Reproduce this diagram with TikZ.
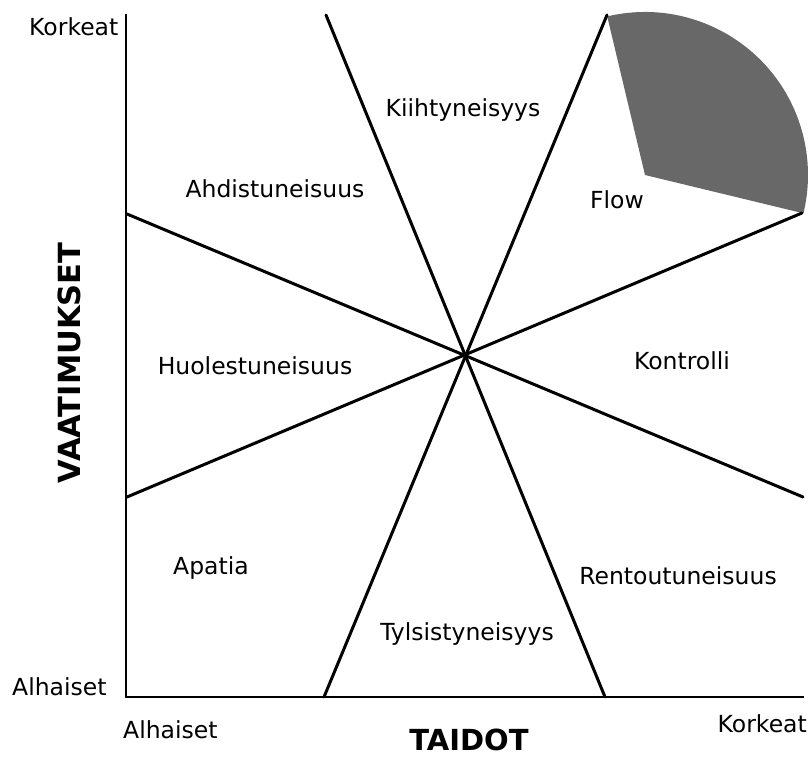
\documentclass[tikz,border=0pt]{standalone}
\usepackage{fontspec}
\setmainfont{DejaVu Sans}
\begin{document}
\begin{tikzpicture}[x=1pt,y=-1pt,
  lbl/.style={inner sep=0pt, font=\fontsize{23.5}{28}\selectfont},
  ttl/.style={inner sep=0pt, font=\fontsize{29}{34}\selectfont\bfseries},
  axis/.style={line width=2.6pt, line cap=rect},
  ray/.style={line width=3pt, line cap=round},
  flowfill/.style={fill={rgb,255:red,104;green,104;blue,104}}]
\useasboundingbox[fill=white] (0,0) rectangle (811,778);
% gray flow sector
\coordinate (fc) at (645,175);
\fill[flowfill] (fc) -- ++(-103.4:163) arc[start angle=-103.4, end angle=13.6, radius=163] -- cycle;
% axes
\coordinate (ytop) at (126,15);
\coordinate (orig) at (126,697);
\coordinate (xend) at (803,697);
\draw[axis] (ytop) -- (orig) -- (xend);
% rays through the centre
\coordinate (O) at (465.5,356);
\coordinate (t1) at (326,15);
\coordinate (b1) at (605,697);
\coordinate (t2) at (607,15);
\coordinate (b2) at (324,697);
\coordinate (l1) at (127,214);
\coordinate (r1) at (803,497);
\coordinate (l2) at (127,497);
\coordinate (r2) at (802,213);
\draw[ray] (t1) -- (b1);
\draw[ray] (t2) -- (b2);
\draw[ray] (l1) -- (r1);
\draw[ray] (l2) -- (r2);
% axis labels
\node[lbl, anchor=base west] (ky) at (29,36) {Korkeat};
\node[lbl, anchor=base west] (ay) at (12,695) {Alhaiset};
\node[lbl, anchor=base west] (ax) at (123,738) {Alhaiset};
\node[lbl, anchor=base east] (kx) at (807,732) {Korkeat};
\node[ttl, anchor=base] (taidot) at (469,750) {TAIDOT};
\node[ttl, anchor=base, rotate=90, font=\fontsize{30.5}{36}\selectfont\bfseries] (vaat) at (80,363) {VAATIMUKSET};
% region labels
\node[lbl, anchor=base] (kiiht) at (463,117) {Kiihtyneisyys};
\node[lbl, anchor=base] (ahd) at (275,198) {Ahdistuneisuus};
\node[lbl, anchor=base] (flow) at (617,209) {Flow};
\node[lbl, anchor=base] (huol) at (255,374) {Huolestuneisuus};
\node[lbl, anchor=base] (kontr) at (682,369) {Kontrolli};
\node[lbl, anchor=base] (apat) at (211,574) {Apatia};
\node[lbl, anchor=base] (rent) at (678,584) {Rentoutuneisuus};
\node[lbl, anchor=base] (tyls) at (467,640) {Tylsistyneisyys};
\end{tikzpicture}
\end{document}
